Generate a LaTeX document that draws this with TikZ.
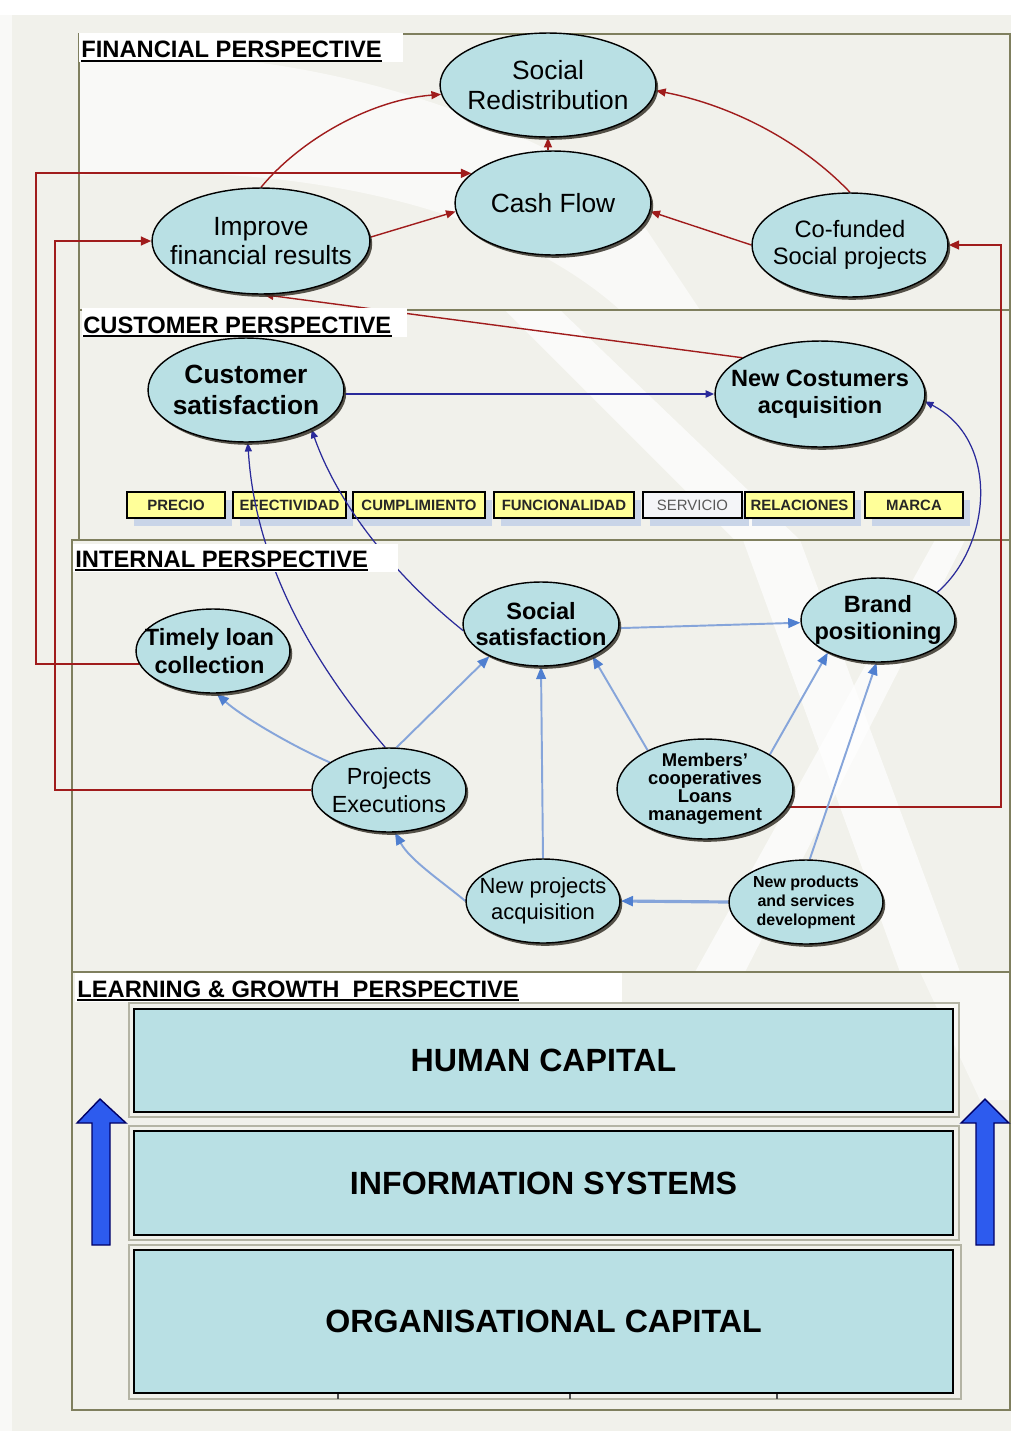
\documentclass[tikz,border=0pt]{standalone}
\usepackage{fontspec}
\setmainfont{Liberation Sans}
\usetikzlibrary{arrows.meta,shapes.geometric,shadows,calc}
\definecolor{bg}{HTML}{F1F1EB}
\definecolor{cyanf}{HTML}{B9E0E4}
\definecolor{pan}{HTML}{7F7F5E}
\definecolor{dred}{HTML}{A01C1C}
\definecolor{navyc}{HTML}{2A2A9A}
\definecolor{lblue}{HTML}{86A5DA}
\definecolor{lbluetip}{HTML}{4F7FD0}
\definecolor{tagy}{HTML}{FFFF99}
\definecolor{tagsh}{HTML}{C9D5E8}
\definecolor{barrow}{HTML}{2D5BEE}
\definecolor{frm}{HTML}{B4B4A4}
\definecolor{servf}{HTML}{F4F5F8}
\newcommand{\fsz}[2]{\fontsize{#1}{#2}\selectfont}
\pgfdeclarelayer{bgl}
\pgfdeclarelayer{tagl}
\pgfdeclarelayer{connl}
\pgfsetlayers{bgl,tagl,connl,main}
\begin{document}
\begin{tikzpicture}[x=0.02cm,y=-0.02cm,
 ell/.style 2 args={ellipse, draw=black, line width=0.8pt, fill=cyanf,
   minimum width=#1*0.04cm, minimum height=#2*0.04cm, inner sep=0pt,
   drop shadow={shadow xshift=1.3pt, shadow yshift=-1.6pt, fill=black!80!olive, opacity=0.85}},
 txt/.style={align=center, inner sep=0pt, text=black},
 ttl/.style={inner sep=0pt, font=\fsz{13.5}{16}\bfseries},
 tagb/.style={draw=black, line width=1.3pt, fill=tagy, minimum height=26*0.02cm,
   minimum width=#1*0.02cm, inner sep=0pt, font=\fsz{8.5}{10}\bfseries, text=black!85,
   drop shadow={shadow xshift=4pt, shadow yshift=-4.5pt, fill=tagsh, opacity=1}},
 capbox/.style={draw=black, line width=1.1pt, fill=cyanf, inner sep=0pt,
   minimum width=819*0.02cm, font=\fsz{18.3}{21}\bfseries},
 redc/.style={draw=dred, line width=0.8pt, -{Triangle[length=5.5pt,width=4.5pt]}},
 redl/.style={draw=dred, line width=1.2pt, -{Triangle[length=6pt,width=5pt]}},
 navc/.style={draw=navyc, line width=0.7pt, -{Triangle[length=5pt,width=4pt]}},
 lbc/.style={draw=lblue, line width=1.1pt, -{Triangle[length=7pt,width=5.5pt,color=lbluetip]}},
 bigarrow/.style={fill=barrow, draw=blue!40!black, line width=0.8pt}
]
\useasboundingbox (0,0) rectangle (1011,1431);
% ---------- background ----------
\begin{pgfonlayer}{bgl}
\fill[bg] (0,0) rectangle (1011,1431);
\fill[white] (0,0) rectangle (1011,15);
\fill[white, opacity=.6] (0,15) rectangle (12,1431);
\fill[white, opacity=.6] (80,55) .. controls (260,45) and (460,90) .. (620,190)
  -- (700,310) -- (620,310) .. controls (520,220) and (330,160) .. (80,175) -- cycle;
\fill[white, opacity=.7] (505,310) -- (560,310) -- (800,540) -- (735,540) -- cycle;
\fill[white, opacity=.7] (743,540) -- (800,540) -- (960,972) -- (900,972) -- cycle;
\fill[white, opacity=.7] (935,540) -- (965,540) -- (745,972) -- (695,972) -- cycle;
\fill[white, opacity=.5] (920,972) -- (1011,972) -- (1011,1100) -- (980,1100) -- cycle;
% panels
\draw[pan, line width=1.1pt] (79,34) rectangle (1010,310);
\draw[pan, line width=1.1pt] (79,310) rectangle (1010,540);
\draw[pan, line width=1.1pt] (72,540) rectangle (1010,972);
\draw[pan, line width=1.1pt] (72,972) rectangle (1010,1410);
\end{pgfonlayer}
% ---------- tags ----------
\begin{pgfonlayer}{tagl}
\node[tagb=98] (t1) at (176,505) {PRECIO};
\node[tagb=113] (t2) at (289.5,505) {EFECTIVIDAD};
\node[tagb=132] (t3) at (419,505) {CUMPLIMIENTO};
\node[tagb=140] (t4) at (564,505) {FUNCIONALIDAD};
\node[tagb=99, fill=servf, font=\fsz{8.5}{10}, text=black!65] (t5) at (692.5,505) {SERVICIO};
\node[tagb=109] (t6) at (799.5,505) {RELACIONES};
\node[tagb=98] (t7) at (914,505) {MARCA};
\end{pgfonlayer}
% ---------- nodes (ellipses) ----------
\node[ell={108}{52}] (sr) at (548,85) {};
\node[ell={98}{52}] (cf) at (553,203) {};
\node[ell={109}{53}] (ifr) at (261,241) {};
\node[ell={98}{52}] (cs) at (850,245) {};
\node[ell={98}{52}] (cus) at (246,390) {};
\node[ell={105}{53}] (nc) at (820,394) {};
\node[ell={78}{42}] (ss) at (541,624) {};
\node[ell={77}{42}] (br) at (878,620) {};
\node[ell={77}{42}] (tl) at (213,651) {};
\node[ell={77}{42}] (pe) at (389,790) {};
\node[ell={88}{50}] (mc) at (705,789) {};
\node[ell={77}{42}] (npa) at (543,901) {};
\node[ell={77}{42}] (npd) at (806,902) {};
% ---------- connectors ----------
\begin{pgfonlayer}{connl}
\coordinate (xa) at (36,0);
\coordinate (xb) at (55,0);
\coordinate (xc) at (1001,0);
\draw[redc] (ifr.north) .. controls (300,140) and (370,100) .. (sr.185);
\draw[redc] (ifr.2) -- (cf.185);
\draw[redc] (sr.south |- cf.north) -- (sr.south);
\draw[redc] (cs.west) -- (cf.355);
\draw[redc] (cs.north) .. controls (800,140) and (730,105) .. (sr.-3);
\draw[redc] (nc.155) -- (ifr.-87);
\draw[redl] (tl.190) -- (tl.190 -| xa) -- (cf.160 -| xa) -- (cf.160);
\draw[redl] (pe.west) -- (pe.west -| xb) -- (ifr.west -| xb) -- (ifr.west);
\draw[redl] (mc.348) -- (mc.348 -| xc) -- (cs.east -| xc) -- (cs.east);
\draw[navc, line width=1.3pt] (nc.west -| cus.east) -- (nc.west);
\draw[navc] (pe.95) .. controls (310,660) and (255,560) .. (cus.-88);
\draw[navc] (ss.185) .. controls (400,580) and (340,510) .. (cus.-31);
\draw[navc] (br.25) .. controls (992,545) and (1000,440) .. (nc.-4);
\draw[lbc] (pe.155) .. controls (290,745) and (240,715) .. (tl.-85);
\draw[lbc] (pe.80) -- (ss.212);
\draw[lbc] (npa.north) -- (ss.south);
\draw[lbc] (npa.west) .. controls (440,880) and (410,860) .. (pe.-82);
\draw[lbc] (mc.146) -- (ss.-32);
\draw[lbc] (mc.28) -- (br.213);
\draw[lbc] (ss.-3) -- (br.182);
\draw[lbc] (npd.85) -- (br.-92);
\draw[lbc, line width=1.8pt] (npd.west) -- (npa.east);
\end{pgfonlayer}
% ---------- titles ----------
\fill[white] (79,33) rectangle (403,62);
\node[ttl, anchor=base west] (tfin) at (81,57.5) {FINANCIAL PERSPECTIVE};
\draw[line width=1.1pt] ([yshift=-1.9pt]tfin.base west) -- ([yshift=-1.9pt]tfin.base east);
\fill[white] (82,308) rectangle (407,337);
\node[ttl, anchor=base west] (tcus) at (83,333) {CUSTOMER PERSPECTIVE};
\draw[line width=1.1pt] ([yshift=-1.9pt]tcus.base west) -- ([yshift=-1.9pt]tcus.base east);
\fill[white] (73,544) rectangle (398,572);
\node[ttl, anchor=base west] (tint) at (75,567) {INTERNAL PERSPECTIVE};
\draw[line width=1.1pt] ([yshift=-1.9pt]tint.base west) -- ([yshift=-1.9pt]tint.base east);
\fill[white] (75,973) rectangle (622,1002);
\node[ttl, anchor=base west] (tlrn) at (77,997) {LEARNING \& GROWTH\ \ PERSPECTIVE};
\draw[line width=1.1pt] ([yshift=-1.9pt]tlrn.base west) -- ([yshift=-1.9pt]tlrn.base east);
% ---------- node texts ----------
\node[txt, font=\fsz{15}{17}] (srt) at (sr) {Social\\Redistribution};
\node[txt, font=\fsz{15}{17}] (cft) at (cf) {Cash Flow};
\node[txt, font=\fsz{15}{17}] (ifrt) at (ifr) {Improve\\financial results};
\node[txt, font=\fsz{13.5}{15.3}] (cst) at (cs) {Co-funded\\Social projects};
\node[txt, font=\fsz{15}{18}\bfseries] (cust) at (cus) {Customer\\satisfaction};
\node[txt, font=\fsz{13.4}{15.5}\bfseries] (nct) at (nc) {New Costumers\\acquisition};
\node[txt, font=\fsz{13.4}{14.5}\bfseries] (sst) at (ss) {Social\\satisfaction};
\node[txt, font=\fsz{13.4}{15.3}\bfseries] (brt) at (br) {Brand\\positioning};
\node[txt, font=\fsz{13.4}{15.9}\bfseries] (tlt) at ([xshift=-2]tl.center) {Timely loan\\collection};
\node[txt, font=\fsz{13.3}{16}] (pet) at (pe) {Projects\\Executions};
\node[txt, font=\fsz{10.5}{10.2}\bfseries] (mct) at (mc) {Members’\\cooperatives\\Loans\\management};
\node[txt, font=\fsz{12.5}{14.7}] (npat) at (npa) {New projects\\acquisition};
\node[txt, font=\fsz{9.1}{10.8}\bfseries] (npdt) at (npd) {New products\\and services\\development};
% ---------- learning & growth ----------
\draw[frm, line width=1.5pt] (129,1003) rectangle (959,1117);
\draw[frm, line width=1.5pt] (129,1126) rectangle (959,1240);
\draw[frm, line width=1.5pt] (129,1245) rectangle (961,1399);
\draw[black!70, line width=0.6pt] (338,1393) -- (338,1399) (570,1393) -- (570,1399) (777,1393) -- (777,1399);
\node[capbox, minimum height=103*0.02cm] (hc) at (543.5,1060.5) {HUMAN CAPITAL};
\node[capbox, minimum height=104*0.02cm] (is) at (543.5,1183) {INFORMATION SYSTEMS};
\node[capbox, minimum height=143*0.02cm] (oc) at (543.5,1321.5) {ORGANISATIONAL CAPITAL};
\draw[bigarrow] (92,1245) -- (92,1123) -- (77,1123) -- (100,1099) -- (126,1123) -- (110,1123) -- (110,1245) -- cycle;
\draw[bigarrow] (976,1245) -- (976,1123) -- (961,1123) -- (985,1099) -- (1009,1123) -- (994,1123) -- (994,1245) -- cycle;
\end{tikzpicture}
\end{document}
